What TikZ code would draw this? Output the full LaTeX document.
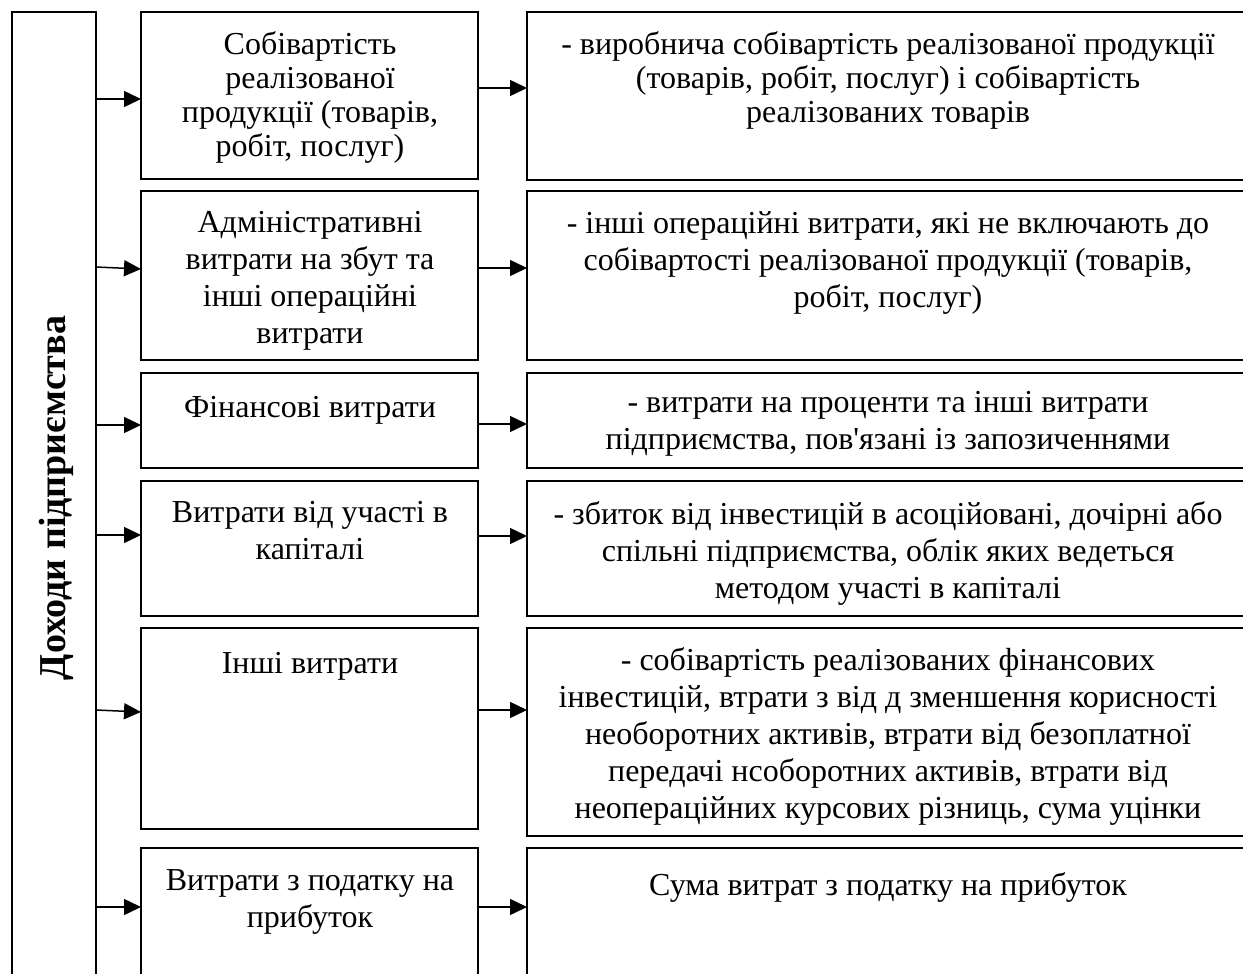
\documentclass[tikz,border=0pt]{standalone}
\usepackage{fontspec}
\setmainfont{Liberation Serif}
\usetikzlibrary{arrows.meta}

\newcommand\bodyfont{\fontsize{32}{37}\selectfont}
\newcommand\tightfont{\fontsize{32}{34}\selectfont}
\newcommand\headfont{\fontsize{38}{42}\selectfont\bfseries}

\begin{document}
\begin{tikzpicture}[x=1pt,y=-1pt,
  frame/.style={draw, line width=1.6pt, inner sep=0pt, outer sep=0pt, anchor=north west},
  txt/.style={font=\bodyfont, align=center, inner sep=0pt, anchor=north,
              execute at begin node=\strut},
  tighttxt/.style={txt, font=\tightfont},
  link/.style={line width=1.5pt, -{Triangle[length=17pt,width=16pt]}}]
\useasboundingbox (0,0) rectangle (1243,974);
\clip (0,0) rectangle (1243,974);

% source column (runs off the bottom of the page)
\node[frame, minimum width=84pt, minimum height=1000pt] (src) at (12,12) {};
\node[font=\headfont, rotate=90, inner sep=0pt] (srclabel) at (56,498) {Доходи підприємства};

% middle column: expense groups
\node[frame, minimum width=337pt, minimum height=167pt] (m1) at (141,12) {};
\node[frame, minimum width=337pt, minimum height=169pt] (m2) at (141,191) {};
\node[frame, minimum width=337pt, minimum height=95pt]  (m3) at (141,373) {};
\node[frame, minimum width=337pt, minimum height=135pt] (m4) at (141,481) {};
\node[frame, minimum width=337pt, minimum height=201pt] (m5) at (141,628) {};
\node[frame, minimum width=337pt, minimum height=160pt] (m6) at (141,848) {};

% right column: descriptions (runs off the right edge)
\node[frame, minimum width=723pt, minimum height=168pt] (r1) at (527,12) {};
\node[frame, minimum width=723pt, minimum height=169pt] (r2) at (527,191) {};
\node[frame, minimum width=723pt, minimum height=95pt]  (r3) at (527,373) {};
\node[frame, minimum width=723pt, minimum height=135pt] (r4) at (527,481) {};
\node[frame, minimum width=723pt, minimum height=208pt] (r5) at (527,628) {};
\node[frame, minimum width=723pt, minimum height=160pt] (r6) at (527,848) {};

% texts of the middle column
\node[tighttxt] (t1) at (310,31) {Собівартість\\реалізованої\\продукції (товарів,\\робіт, послуг)};
\node[txt] (t2) at (310,211) {Адміністративні\\витрати на збут та\\інші операційні\\витрати};
\node[txt] (t3) at (310,391) {Фінансові витрати};
\node[txt] (t4) at (310,501) {Витрати від участі в\\капіталі};
\node[txt] (t5) at (310,647) {Інші витрати};
\node[txt] (t6) at (310,869) {Витрати з податку на\\прибуток};

% texts of the right column
\node[tighttxt] (d1) at (888,31) {- виробнича собівартість реалізованої продукції\\(товарів, робіт, послуг) і собівартість\\реалізованих товарів};
\node[txt] (d2) at (888,211) {- інші операційні витрати, які не включають до\\собівартості реалізованої продукції (товарів,\\робіт, послуг)};
\node[txt] (d3) at (888,391) {- витрати на проценти та інші витрати\\підприємства, пов\textquotesingle язані із запозиченнями};
\node[txt] (d4) at (888,501) {- збиток від інвестицій в асоційовані, дочірні або\\спільні підприємства, облік яких ведеться\\методом участі в капіталі};
\node[txt] (d5) at (888,647) {- собівартість реалізованих фінансових\\інвестицій, втрати з від д зменшення корисності\\необоротних активів, втрати від безоплатної\\передачі нсоборотних активів, втрати від\\неопераційних курсових різниць, сума уцінки};
\node[txt] (d6) at (888,869) {Сума витрат з податку на прибуток};

% arrow heights
\coordinate (a1) at (0,99);
\coordinate (a2s) at (0,267); \coordinate (a2e) at (0,269);
\coordinate (a3) at (0,425);
\coordinate (a4) at (0,535);
\coordinate (a5s) at (0,710); \coordinate (a5e) at (0,712);
\coordinate (a6) at (0,907);
\coordinate (b1) at (0,88);
\coordinate (b2) at (0,268);
\coordinate (b3) at (0,424);
\coordinate (b4) at (0,536);
\coordinate (b5) at (0,710);
\coordinate (b6) at (0,907);

% source -> groups
\draw[link] (src.east |- a1)  -- (m1.west |- a1);
\draw[link] (src.east |- a2s) -- (m2.west |- a2e);
\draw[link] (src.east |- a3)  -- (m3.west |- a3);
\draw[link] (src.east |- a4)  -- (m4.west |- a4);
\draw[link] (src.east |- a5s) -- (m5.west |- a5e);
\draw[link] (src.east |- a6)  -- (m6.west |- a6);

% groups -> descriptions
\draw[link] (m1.east |- b1) -- (r1.west |- b1);
\draw[link] (m2.east |- b2) -- (r2.west |- b2);
\draw[link] (m3.east |- b3) -- (r3.west |- b3);
\draw[link] (m4.east |- b4) -- (r4.west |- b4);
\draw[link] (m5.east |- b5) -- (r5.west |- b5);
\draw[link] (m6.east |- b6) -- (r6.west |- b6);
\end{tikzpicture}
\end{document}
